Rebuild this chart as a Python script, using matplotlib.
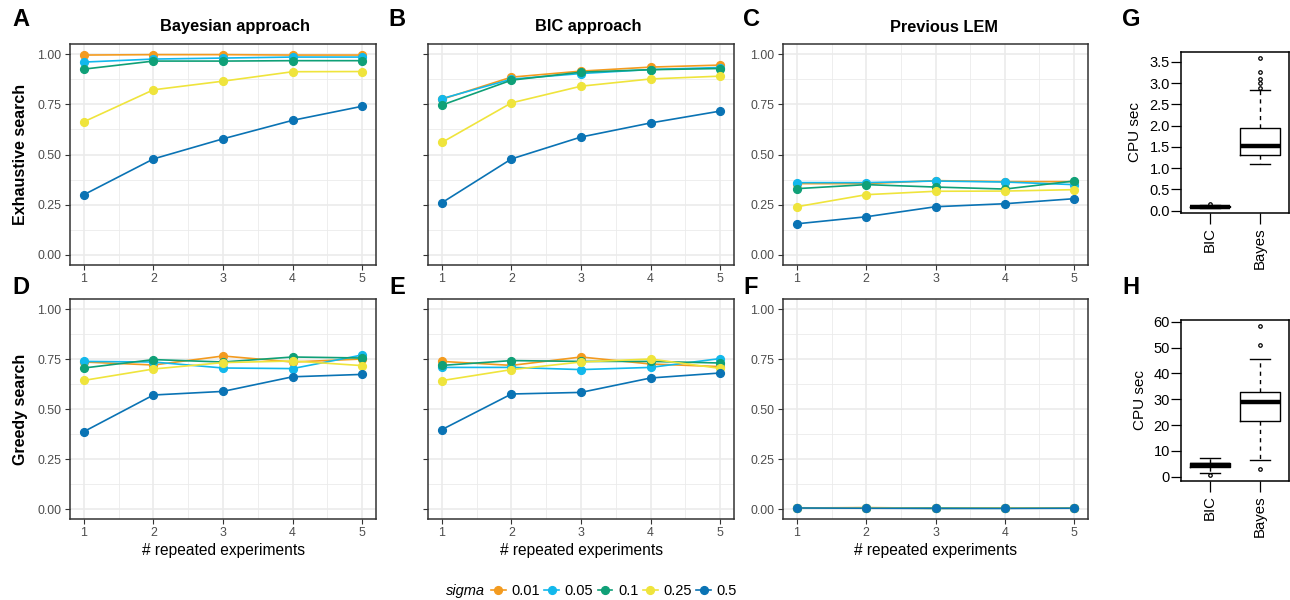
import matplotlib
matplotlib.use('Agg')
import matplotlib.pyplot as plt
from matplotlib.lines import Line2D

plt.rcParams['font.family'] = ['Liberation Sans', 'DejaVu Sans']

# ---- data ----
n_rep = [1, 2, 3, 4, 5]
sigmas = ['0.01', '0.05', '0.1', '0.25', '0.5']
colors = ['#F39B1F', '#12B8EC', '#0FA077', '#EFE43C', '#0A73B4']

# rows: sigma 0.01, 0.05, 0.1, 0.25, 0.5
bayes_exh = [[0.995, 0.997, 0.997, 0.995, 0.995],
             [0.960, 0.975, 0.980, 0.985, 0.985],
             [0.925, 0.965, 0.965, 0.967, 0.967],
             [0.663, 0.822, 0.865, 0.912, 0.913],
             [0.300, 0.478, 0.578, 0.670, 0.740]]
bic_exh = [[0.775, 0.885, 0.915, 0.935, 0.945],
           [0.778, 0.875, 0.903, 0.923, 0.933],
           [0.746, 0.870, 0.910, 0.922, 0.928],
           [0.560, 0.757, 0.840, 0.876, 0.890],
           [0.260, 0.478, 0.587, 0.657, 0.716]]
lem_exh = [[0.355, 0.355, 0.370, 0.365, 0.365],
           [0.360, 0.360, 0.368, 0.363, 0.350],
           [0.330, 0.350, 0.338, 0.328, 0.368],
           [0.240, 0.300, 0.317, 0.318, 0.325],
           [0.155, 0.190, 0.240, 0.255, 0.280]]
bayes_greedy = [[0.735, 0.720, 0.765, 0.735, 0.750],
                [0.738, 0.735, 0.705, 0.702, 0.770],
                [0.705, 0.747, 0.735, 0.760, 0.755],
                [0.643, 0.700, 0.732, 0.740, 0.717],
                [0.387, 0.570, 0.588, 0.661, 0.673]]
bic_greedy = [[0.738, 0.718, 0.760, 0.725, 0.712],
              [0.708, 0.708, 0.697, 0.708, 0.752],
              [0.718, 0.742, 0.738, 0.738, 0.730],
              [0.642, 0.697, 0.735, 0.750, 0.703],
              [0.397, 0.575, 0.583, 0.655, 0.680]]
lem_greedy = [[0.005, 0.007, 0.004, 0.006, 0.005],
              [0.005, 0.005, 0.004, 0.004, 0.005],
              [0.006, 0.005, 0.004, 0.004, 0.006],
              [0.005, 0.006, 0.003, 0.005, 0.005],
              [0.005, 0.004, 0.003, 0.003, 0.004]]

# box plot summaries (CPU seconds)
box_names = ['BIC', 'Bayes']
cpu_exh = [dict(whislo=0.07, q1=0.08, med=0.095, q3=0.11, whishi=0.13, fliers=[0.16]),
           dict(whislo=1.09, q1=1.31, med=1.52, q3=1.94, whishi=2.83,
                fliers=[2.89, 2.99, 3.09, 3.27, 3.6])]
cpu_greedy = [dict(whislo=1.3, q1=3.6, med=4.4, q3=5.4, whishi=7.1, fliers=[0.5]),
              dict(whislo=6.5, q1=21.7, med=28.8, q3=32.7, whishi=45.6,
                   fliers=[3.1, 51.2, 58.3])]

W, H = 1290, 600
fig = plt.figure(figsize=(W / 100, H / 100), dpi=100)


def px_axes(x0, y0, x1, y1):
    return fig.add_axes([x0 / W, 1 - y1 / H, (x1 - x0) / W, (y1 - y0) / H])


def line_panel(ax, series, ylabels=True, xlabel=None):
    for vals, c in zip(series, colors):
        ax.plot(n_rep, vals, color=c, lw=1.2, zorder=3)
    for vals, c in zip(series, colors):
        ax.plot(n_rep, vals, 'o', color=c, ms=5.6, zorder=4)
    ax.set_xlim(0.8, 5.2)
    ax.set_ylim(-0.05, 1.05)
    ax.set_xticks(n_rep)
    ax.set_yticks([0, 0.25, 0.5, 0.75, 1.0])
    ax.set_xticks([1.5, 2.5, 3.5, 4.5], minor=True)
    ax.set_yticks([0.125, 0.375, 0.625, 0.875], minor=True)
    if ylabels:
        ax.set_yticklabels(['0.00', '0.25', '0.50', '0.75', '1.00'])
    else:
        ax.set_yticklabels([])
    ax.grid(which='major', color='#EBEBEB', lw=1.2)
    ax.grid(which='minor', color='#EBEBEB', lw=0.6)
    ax.set_axisbelow(True)
    ax.tick_params(which='minor', length=0)
    ax.tick_params(which='major', length=3.5, width=0.8, color='#333333',
                   labelcolor='#4D4D4D', labelsize=8.9, pad=2.5)
    for s in ax.spines.values():
        s.set_color('#333333')
        s.set_linewidth(1.1)
    if xlabel:
        ax.set_xlabel(xlabel, fontsize=11.2, labelpad=3)


def box_panel(ax, stats, ylim, yticks, yticklabels):
    ax.bxp(stats, positions=[1, 2], widths=0.8, showfliers=True, patch_artist=False,
           boxprops=dict(color='black', lw=1),
           medianprops=dict(color='black', lw=3.2, solid_capstyle='butt'),
           whiskerprops=dict(color='black', lw=1, ls=(0, (3, 3))),
           capprops=dict(color='black', lw=1),
           capwidths=0.4,
           flierprops=dict(marker='o', ms=2.5, mfc='none', mec='black', mew=0.9))
    ax.set_xlim(0.42, 2.58)
    ax.set_ylim(*ylim)
    ax.set_yticks(yticks)
    ax.set_yticklabels(yticklabels)
    ax.set_xticks([1, 2])
    ax.set_xticklabels(box_names, rotation=90)
    ax.tick_params(axis='y', length=7, width=0.9, labelsize=10.5, pad=1)
    ax.tick_params(axis='x', length=8, width=0.9, labelsize=10.8, pad=2)
    for s in ax.spines.values():
        s.set_linewidth(1.1)
    ax.set_ylabel('CPU sec', fontsize=11, labelpad=5)


axA = px_axes(70, 44, 376, 265)
axB = px_axes(428, 44, 734, 265)
axC = px_axes(783, 44, 1088, 265)
axD = px_axes(70, 299, 376, 519)
axE = px_axes(428, 299, 734, 519)
axF = px_axes(783, 299, 1088, 519)

line_panel(axA, bayes_exh)
line_panel(axB, bic_exh, ylabels=False)
line_panel(axC, lem_exh)
line_panel(axD, bayes_greedy, xlabel='# repeated experiments')
line_panel(axE, bic_greedy, ylabels=False, xlabel='# repeated experiments')
line_panel(axF, lem_greedy, xlabel='# repeated experiments')

axA.set_ylabel('Exhaustive search', fontsize=11.5, fontweight='bold', labelpad=7)
axD.set_ylabel('Greedy search', fontsize=11.5, fontweight='bold', labelpad=7)

fig.text(235 / W, 1 - 27 / H, 'Bayesian approach', fontsize=11.8, fontweight='bold',
         ha='center', va='center')
fig.text(588 / W, 1 - 27 / H, 'BIC approach', fontsize=11.8, fontweight='bold',
         ha='center', va='center')
fig.text(944 / W, 1 - 27 / H, 'Previous LEM', fontsize=11.8, fontweight='bold',
         ha='center', va='center')

axG = px_axes(1181, 52, 1289, 213)
axH = px_axes(1181, 320, 1289, 481)
box_panel(axG, cpu_exh, (-0.054, 3.73), [0, 0.5, 1, 1.5, 2, 2.5, 3, 3.5],
          ['0.0', '0.5', '1.0', '1.5', '2.0', '2.5', '3.0', '3.5'])
box_panel(axH, cpu_greedy, (-1.7, 60.7), [0, 10, 20, 30, 40, 50, 60],
          ['0', '10', '20', '30', '40', '50', '60'])

# panel letters
for lab, x, y in [('A', 21, 20), ('B', 397, 20), ('C', 751, 20),
                  ('D', 21, 288), ('E', 397, 288), ('F', 751, 288),
                  ('G', 1131, 20), ('H', 1131, 288)]:
    fig.text(x / W, 1 - y / H, lab, fontsize=17, fontweight='bold',
             ha='center', va='center')

# legend
handles = [Line2D([], [], color=c, marker='o', lw=1.2, ms=5.6) for c in colors]
fig.legend(handles, sigmas, loc='center left', bbox_to_anchor=(491 / W, 1 - 591 / H),
           ncol=5, frameon=False, fontsize=10.5, handlelength=1.0, handletextpad=0.4,
           columnspacing=0.3, borderpad=0, borderaxespad=0)
fig.text(485 / W, 1 - 591 / H, 'sigma', fontsize=10.5, style='italic',
         ha='right', va='center')

plt.savefig('out.png', dpi=100)
